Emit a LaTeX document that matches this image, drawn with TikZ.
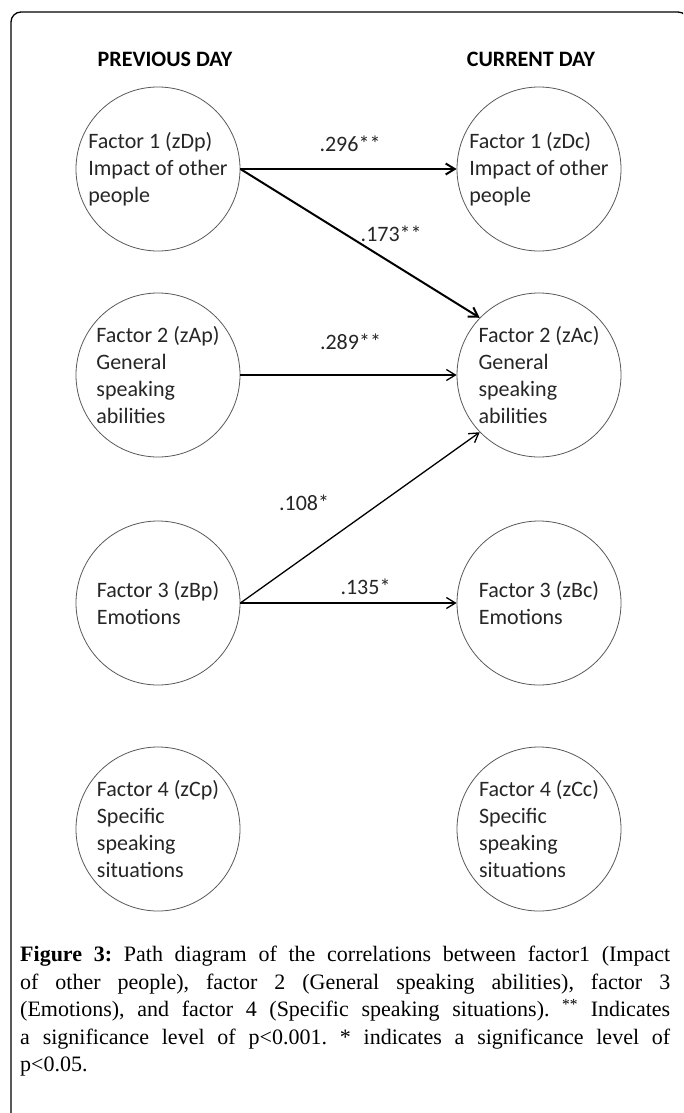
\documentclass[tikz,border=0pt]{standalone}
\usepackage{fontspec}
\setmainfont{Liberation Serif}
\newfontfamily\diagfont{Carlito}
\usetikzlibrary{positioning}
\usetikzlibrary{arrows.meta}
\tikzset{>={Straight Barb[length=9pt,width=11pt]}}
\tikzset{fac/.style={draw=black!65, line width=0.8pt, circle, minimum size=164pt, inner sep=0pt, align=left, text=black!85, font=\diagfont\fontsize{22}{26.8}\selectfont}}
\tikzset{ed/.style={inner sep=0pt, anchor=base, text=black!85, font=\diagfont\fontsize{22}{26}\selectfont}}
\tikzset{head/.style={font=\diagfont\bfseries\fontsize{22}{26}\selectfont}}
\tikzset{strong/.style={->, line width=2pt}}
\tikzset{weak/.style={->, line width=1.3pt}}

\begin{document}
\begin{tikzpicture}[x=1pt,y=-1pt]
\clip (0,0) rectangle (683,1113);
\fill[white] (0,0) rectangle (683,1113);
\draw[line width=1.3pt, rounded corners=10pt] (11,12) rectangle (688,1130);

\node[head] (prev) at (165,59) {PREVIOUS DAY};
\node[head] (curr) at (531,59) {CURRENT DAY};

\begin{scope}[on grid]
\node[fac] (zDp) at (158,169) {Factor 1 (zDp)\\Impact of other\\people};
\node[fac] (zAp) [below = 206pt of zDp] {Factor 2 (zAp)\\General\\speaking\\abilities};
\node[fac] (zBp) [below = 228pt of zAp] {Factor 3 (zBp)\\Emotions};
\node[fac] (zCp) [below = 226pt of zBp] {Factor 4 (zCp)\\Specific\\speaking\\situations};

\node[fac] (zDc) [right = 381pt of zDp] {Factor 1 (zDc)\\Impact of other\\people};
\node[fac] (zAc) [right = 381pt of zAp] {Factor 2 (zAc)\\General\\speaking\\abilities};
\node[fac] (zBc) [right = 381pt of zBp] {Factor 3 (zBc)\\Emotions};
\node[fac] (zCc) [right = 381pt of zCp] {Factor 4 (zCc)\\Specific\\speaking\\situations};
\end{scope}

\draw[strong] (zDp.east) -- node[ed, xshift=1.5pt, yshift=18pt] (r296) {.296**} (zDc.west);
\draw[strong] (zDp.east) -- node[ed, pos=.63, yshift=21pt] (r173) {.173**} (zAc.136);
\draw[weak] (zAp.east) -- node[ed, xshift=2pt, yshift=26pt] (r289) {.289**} (zAc.west);
\draw[weak] (zBp.east) -- node[ed, xshift=-56pt, yshift=7pt] (r108) {.108*} (zAc.224);
\draw[weak] (zBp.east) -- node[ed, xshift=17pt, yshift=9pt] (r135) {.135*} (zBc.west);

\node[anchor=north west, text width=650pt, align=justify, inner sep=0pt, font=\fontsize{22}{27.5}\selectfont\frenchspacing] (cap) at (20,946)
{\textbf{Figure 3:} Path diagram of the correlations between factor1 (Impact\linebreak
of other people), factor 2 (General speaking abilities), factor 3\linebreak
(Emotions), and factor 4 (Specific speaking situations). \textsuperscript{**} Indicates\linebreak
a significance level of p<0.001. * indicates a significance level of\linebreak
p<0.05.};
\end{tikzpicture}
\end{document}
